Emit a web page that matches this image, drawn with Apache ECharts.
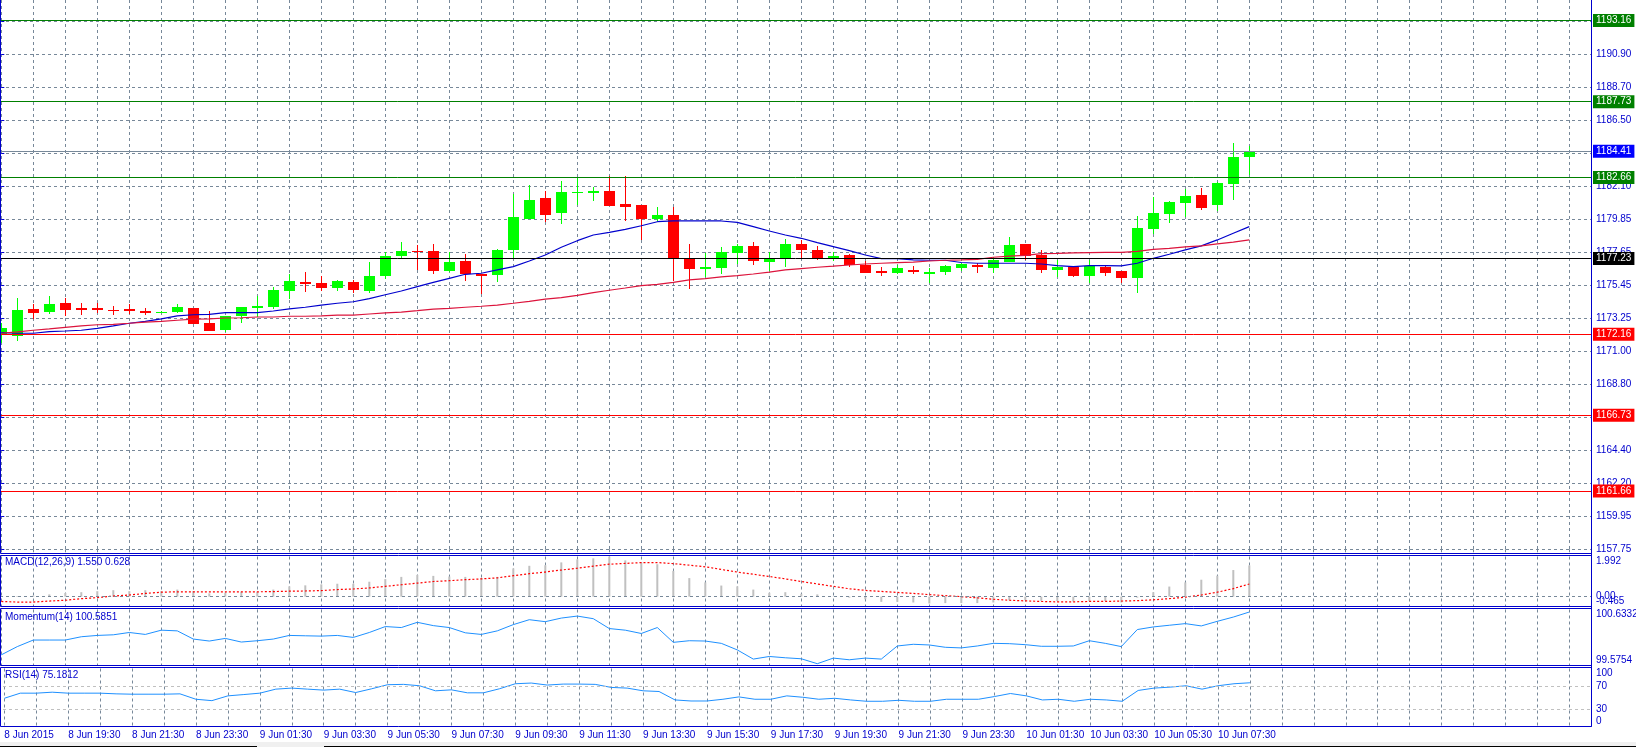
<!DOCTYPE html>
<html><head><meta charset="utf-8">
<script src="https://cdn.jsdelivr.net/npm/echarts@6/dist/echarts.min.js"></script>
<style>html,body{margin:0;padding:0;background:#fff;overflow:hidden}#c{width:1636px;height:747px}</style>
</head><body><div id="c"></div>
<script>
// ---------- data ----------
const openP = [1172.10,1172.06,1173.84,1173.66,1174.25,1173.93,1173.93,1173.80,1173.86,1173.73,
1173.60,1173.66,1173.91,1172.91,1172.46,1173.40,1173.93,1174.00,1175.07,1175.65,
1175.59,1175.27,1175.65,1175.05,1176.08,1177.40,1177.73,1177.73,1176.39,1177.06,
1176.19,1176.12,1177.82,1179.87,1181.28,1180.27,1181.61,1181.61,1181.75,1180.88,
1180.81,1179.87,1180.14,1177.24,1176.52,1176.59,1177.60,1178.07,1177.02,1177.24,
1178.20,1177.80,1177.26,1177.46,1176.77,1176.41,1176.28,1176.48,1176.21,1176.34,
1176.59,1176.81,1176.61,1177.01,1178.20,1177.48,1176.48,1176.68,1176.08,1176.66,
1176.39,1175.94,1179.22,1180.23,1180.94,1181.48,1180.81,1182.24,1184.03];
const closeP = [1172.57,1173.78,1173.60,1174.18,1173.80,1173.80,1173.80,1173.76,1173.73,1173.60,
1173.66,1173.98,1172.86,1172.39,1173.36,1173.98,1174.05,1175.12,1175.72,1175.54,
1175.27,1175.72,1175.12,1176.06,1177.40,1177.73,1177.66,1176.39,1176.99,1176.19,
1176.06,1177.82,1180.01,1181.15,1180.14,1181.68,1181.66,1181.77,1180.74,1180.68,
1179.87,1180.14,1177.24,1176.52,1176.66,1177.66,1178.07,1177.08,1177.24,1178.20,
1177.80,1177.24,1177.40,1176.77,1176.28,1176.28,1176.59,1176.34,1176.34,1176.72,
1176.86,1176.68,1177.15,1178.13,1177.42,1176.48,1176.66,1176.08,1176.75,1176.28,
1175.94,1179.27,1180.27,1181.01,1181.41,1180.61,1182.28,1184.03,1184.41];
const lowP = [1171.59,1171.72,1173.16,1173.51,1173.40,1173.44,1173.58,1173.44,1173.51,1173.46,
1173.58,1173.60,1172.82,1172.39,1172.33,1172.93,1173.33,1173.82,1174.50,1175.00,
1175.07,1175.05,1174.90,1174.90,1175.87,1177.24,1176.44,1176.19,1176.34,1175.72,
1174.85,1175.65,1177.28,1179.87,1179.65,1179.54,1180.83,1181.08,1180.74,1179.76,
1178.47,1179.74,1175.72,1175.16,1176.01,1176.21,1176.86,1176.79,1176.41,1176.66,
1177.24,1177.13,1177.06,1176.68,1176.28,1176.08,1176.21,1176.21,1175.61,1176.14,
1176.41,1176.28,1176.28,1177.01,1177.13,1176.28,1176.01,1176.01,1175.61,1176.08,
1175.61,1174.94,1178.89,1179.63,1180.03,1180.50,1180.43,1181.15,1182.84];
const highP = [1172.93,1174.57,1174.16,1174.70,1174.56,1174.25,1174.27,1174.07,1174.18,1173.89,
1173.70,1174.18,1173.93,1173.71,1173.40,1173.98,1174.72,1175.30,1176.19,1176.34,
1176.06,1175.81,1175.81,1176.99,1177.68,1178.33,1178.11,1178.20,1177.68,1177.53,
1176.19,1177.88,1181.57,1182.15,1181.75,1182.42,1182.62,1182.02,1182.75,1182.75,
1180.81,1180.68,1180.68,1178.20,1177.62,1178.00,1178.20,1178.33,1177.66,1178.53,
1178.47,1178.07,1177.66,1177.53,1177.06,1176.66,1176.79,1176.72,1176.57,1176.79,
1176.93,1176.90,1177.35,1178.69,1178.20,1177.80,1177.15,1176.68,1177.15,1176.75,
1176.39,1180.07,1181.35,1181.10,1181.88,1181.95,1182.35,1184.97,1184.76];
const maFast = [1172.26,1172.22,1172.22,1172.33,1172.37,1172.42,1172.55,1172.71,1172.89,1173.02,
1173.18,1173.38,1173.46,1173.49,1173.60,1173.60,1173.60,1173.71,1173.85,1173.96,
1174.10,1174.23,1174.33,1174.54,1174.80,1175.05,1175.34,1175.63,1175.90,1176.17,
1176.24,1176.46,1176.68,1177.06,1177.46,1177.98,1178.42,1178.80,1178.98,1179.18,
1179.42,1179.69,1179.74,1179.74,1179.74,1179.74,1179.65,1179.36,1179.07,1178.80,
1178.58,1178.29,1178.02,1177.75,1177.46,1177.22,1177.22,1177.13,1177.11,1177.11,
1176.96,1176.91,1176.91,1176.91,1176.91,1176.86,1176.75,1176.68,1176.75,1176.75,
1176.73,1176.91,1177.24,1177.51,1177.80,1178.07,1178.47,1178.92,1179.36];
const maSlow = [1172.22,1172.31,1172.42,1172.51,1172.62,1172.71,1172.79,1172.82,1172.89,1172.97,
1173.02,1173.09,1173.16,1173.18,1173.24,1173.26,1173.31,1173.31,1173.36,1173.36,
1173.38,1173.44,1173.44,1173.51,1173.58,1173.64,1173.73,1173.83,1173.89,1173.96,
1174.03,1174.11,1174.23,1174.36,1174.50,1174.60,1174.76,1174.94,1175.10,1175.25,
1175.41,1175.50,1175.63,1175.79,1175.88,1175.99,1176.08,1176.19,1176.32,1176.46,
1176.55,1176.64,1176.71,1176.79,1176.86,1176.91,1176.95,1176.99,1177.06,1177.11,
1177.13,1177.17,1177.31,1177.38,1177.44,1177.55,1177.57,1177.60,1177.62,1177.64,
1177.64,1177.71,1177.84,1177.91,1178.00,1178.07,1178.20,1178.32,1178.47];
const macdHist = [0.02,0.03,0.05,0.11,0.18,0.22,0.27,0.32,0.27,0.32,
0.27,0.35,0.27,0.16,0.19,0.24,0.24,0.35,0.51,0.56,
0.61,0.64,0.64,0.74,0.87,0.98,1.08,1.03,1.00,0.98,
0.93,0.98,1.40,1.53,1.56,1.70,1.85,1.90,1.99,1.80,
1.70,1.61,1.28,0.92,0.71,0.55,0.51,0.35,0.19,0.22,
0.14,0.11,0.01,-0.05,-0.13,-0.26,-0.26,-0.29,-0.34,-0.32,
-0.32,-0.32,-0.29,-0.18,-0.18,-0.21,-0.22,-0.24,-0.22,-0.22,
-0.29,-0.05,0.22,0.50,0.71,0.84,1.04,1.32,1.550];
const macdSignal = [-0.24,-0.27,-0.27,-0.22,-0.18,-0.10,-0.05,0.03,0.08,0.16,
0.22,0.24,0.24,0.24,0.24,0.24,0.24,0.25,0.27,0.28,
0.30,0.35,0.38,0.43,0.51,0.59,0.67,0.75,0.79,0.84,
0.88,0.93,1.04,1.14,1.22,1.32,1.41,1.51,1.61,1.65,
1.69,1.69,1.64,1.56,1.48,1.35,1.22,1.11,1.00,0.88,
0.75,0.63,0.51,0.39,0.31,0.26,0.21,0.16,0.10,0.05,
0.00,-0.06,-0.13,-0.18,-0.21,-0.24,-0.26,-0.26,-0.24,-0.24,
-0.22,-0.20,-0.16,-0.10,-0.03,0.08,0.22,0.40,0.628];
const momentum = [99.769,99.926,100.051,100.051,100.051,100.114,100.139,100.151,100.195,100.158,
100.239,100.226,100.070,100.032,100.082,100.013,100.038,100.070,100.139,100.132,
100.126,100.139,100.101,100.195,100.308,100.289,100.389,100.326,100.289,100.189,
100.158,100.226,100.345,100.439,100.401,100.470,100.508,100.458,100.270,100.239,
100.176,100.289,100.007,100.038,100.032,99.988,99.863,99.688,99.738,99.713,
99.694,99.600,99.707,99.675,99.707,99.688,99.938,99.970,99.957,99.913,
99.901,99.938,99.988,99.982,99.963,99.932,99.932,99.938,100.038,99.988,
99.926,100.251,100.301,100.333,100.364,100.320,100.408,100.489,100.5851];
const rsi = [48.2,57.1,57.1,58.8,57.1,57.1,57.1,55.9,55.3,55.3,
55.3,55.9,46.5,44.1,52.4,54.7,57.1,64.1,65.9,64.1,
62.4,64.1,58.2,64.7,71.8,72.4,70.0,61.2,62.9,57.7,
57.7,64.7,73.5,74.7,71.2,72.9,72.9,72.4,67.1,65.9,
61.2,60.0,45.3,43.5,43.5,46.5,50.6,46.5,46.5,52.4,
50.0,46.5,48.2,45.3,43.0,43.0,44.7,43.0,43.0,46.5,
46.5,46.5,51.2,56.5,52.4,45.3,46.5,43.0,46.5,45.3,
43.0,61.8,65.9,67.6,70.0,64.1,70.0,73.5,75.1812];
const timeLabels = ['8 Jun 2015','8 Jun 19:30','8 Jun 21:30','8 Jun 23:30','9 Jun 01:30','9 Jun 03:30',
'9 Jun 05:30','9 Jun 07:30','9 Jun 09:30','9 Jun 11:30','9 Jun 13:30','9 Jun 15:30','9 Jun 17:30',
'9 Jun 19:30','9 Jun 21:30','9 Jun 23:30','10 Jun 01:30','10 Jun 03:30','10 Jun 05:30','10 Jun 07:30'];
const priceTickLabels = ['1157.75','1159.95','1162.20','1164.40','1166.60','1168.80','1171.00','1173.25',
'1175.45','1177.65','1179.85','1182.10','1184.30','1186.50','1188.70','1190.90','1193.10'];
const priceMin = 1157.75, priceStep = 2.21, priceTop = 1194.54;
const resistanceLevels = [1193.16, 1187.73, 1182.66];
const supportLevels = [1172.16, 1166.73, 1161.66];
const pivotLevel = 1177.23;
const bidPrice = 1184.41;
const macdRange = [-0.465, 1.992];
const momRange = [99.5754, 100.6332];
const rsiRange = [0, 100];
const rsiLevels = [70, 30];

// ---------- styling ----------
const FONT = 'Liberation Sans';
const FG = '#0000cd';
const GRIDC = '#778899';
const DASH = [3, 3];
const X_MIN = -0.08125, X_MAX = 99.35625;
const N = openP.length;

const chart = echarts.init(document.getElementById('c'), null, {renderer: 'canvas'});

const candleData = openP.map((_, i) => [i, openP[i], closeP[i], lowP[i], highP[i]]);
const pairs = arr => arr.map((v, i) => [i, v]);

function xAxisFor(g, showLabels) {
  return {
    type: 'value', gridIndex: g, min: X_MIN, max: X_MAX, splitNumber: 50, minInterval: 2, maxInterval: 2,
    axisLine: {show: false}, axisTick: {show: false},
    splitLine: {show: true, showMinLine: false, showMaxLine: false, lineStyle: {color: GRIDC, type: DASH, width: 1}},
    axisLabel: showLabels ? {
      show: true, interval: 0, hideOverlap: false, showMinLabel: true, showMaxLabel: false,
      align: 'left', verticalAlign: 'top', margin: 4, color: FG, fontFamily: FONT, fontSize: 10,
      formatter: v => { const r = Math.round(v); if (Math.abs(v - r) > 1e-6 || r < 0 || r % 4 !== 0) return ''; return timeLabels[r / 4] || ''; }
    } : {show: false}
  };
}
const hiddenY = (g, range) => ({type: 'value', gridIndex: g, position: 'right', min: range[0], max: range[1],
  axisLine: {show: false}, axisTick: {show: false}, axisLabel: {show: false}, splitLine: {show: false}});

const levelLines = [];
resistanceLevels.forEach(v => levelLines.push({yAxis: v, lineStyle: {color: '#008000'}, label: {backgroundColor: '#008000'}}));
supportLevels.forEach(v => levelLines.push({yAxis: v, lineStyle: {color: '#ff0000'}, label: {backgroundColor: '#ff0000'}}));
levelLines.push({yAxis: pivotLevel, lineStyle: {color: '#000000'}, label: {backgroundColor: '#000000'}});
levelLines.push({yAxis: bidPrice, lineStyle: {color: GRIDC}, label: {backgroundColor: '#0000ff'}});

const option = {
  animation: false,
  backgroundColor: '#ffffff',
  grid: [
    {left: 0, right: 45, top: 0, bottom: 747 - 549.3},
    {left: 0, right: 45, top: 556.5, height: 49.5},
    {left: 0, right: 45, top: 609.5, height: 55.5},
    {left: 0, right: 45, top: 668.5, height: 57.5},
    {left: 0, right: 45, top: 549.3, height: 4.2}
  ],
  xAxis: [xAxisFor(0, false), xAxisFor(1, false), xAxisFor(2, false), xAxisFor(3, true), xAxisFor(4, false)],
  yAxis: [
    {type: 'value', gridIndex: 0, position: 'right', min: priceMin, max: priceTop, interval: priceStep,
     axisLine: {show: false},
     axisTick: {show: true, length: 3, lineStyle: {color: FG}},
     splitLine: {show: true, showMaxLine: false, lineStyle: {color: GRIDC, type: DASH, width: 1}},
     axisLabel: {show: true, margin: 5, color: FG, fontFamily: FONT, fontSize: 10, showMaxLabel: false,
       formatter: v => { const k = Math.round((v - priceMin) / priceStep); if (Math.abs(v - (priceMin + k * priceStep)) > 0.01) return ''; return priceTickLabels[k] || ''; }}},
    hiddenY(1, macdRange), hiddenY(2, momRange), hiddenY(3, rsiRange), hiddenY(4, [0, 1])
  ],
  series: [
    {
      type: 'custom', name: 'candles', xAxisIndex: 0, yAxisIndex: 0, z: 3, clip: true,
      data: candleData,
      encode: {x: 0, y: [1, 2, 3, 4]},
      renderItem: (params, api) => {
        const i = api.value(0), o = api.value(1), c = api.value(2), l = api.value(3), h = api.value(4);
        const pO = api.coord([i, o]), pC = api.coord([i, c]), pL = api.coord([i, l]), pH = api.coord([i, h]);
        const x = Math.round(pO[0] - 0.3);
        const color = c >= o ? '#00ff00' : '#ff0000';
        let top = Math.round(Math.min(pO[1], pC[1])), bot = Math.round(Math.max(pO[1], pC[1]));
        if (bot - top < 1) bot = top + 1;
        const wt = Math.round(pH[1]), wb = Math.round(pL[1]);
        return {type: 'group', children: [
          {type: 'rect', shape: {x: x, y: wt, width: 1, height: Math.max(1, wb - wt)}, style: {fill: color}},
          {type: 'rect', shape: {x: x - 5, y: top, width: 11, height: bot - top}, style: {fill: color}}
        ]};
      }
    },
    {type: 'line', name: 'MA fast', xAxisIndex: 0, yAxisIndex: 0, z: 4, data: pairs(maFast), showSymbol: false,
     lineStyle: {color: '#0000cd', width: 1.2}},
    {type: 'line', name: 'MA slow', xAxisIndex: 0, yAxisIndex: 0, z: 4, data: pairs(maSlow), showSymbol: false,
     lineStyle: {color: '#dc143c', width: 1.2},
     markLine: {silent: true, symbol: 'none', z: 6, animation: false,
       lineStyle: {type: 'solid', width: 1},
       label: {show: true, position: 'end', distance: 2, color: '#ffffff', fontFamily: FONT, fontSize: 10,
         padding: [2, 3, 1, 3], formatter: p => p.value.toFixed(2)},
       emphasis: {disabled: true},
       data: levelLines}},
    {type: 'bar', name: 'MACD', xAxisIndex: 1, yAxisIndex: 1, data: pairs(macdHist), barWidth: 2,
     itemStyle: {color: '#c0c0c0'},
     markLine: {silent: true, symbol: 'none', label: {show: false}, lineStyle: {color: GRIDC, type: DASH, width: 1},
       data: [{yAxis: 0}]}},
    {type: 'line', name: 'Signal', xAxisIndex: 1, yAxisIndex: 1, data: pairs(macdSignal), showSymbol: false,
     lineStyle: {color: '#ff0000', width: 1.2, type: [2, 2]}},
    {type: 'line', name: 'Momentum', xAxisIndex: 2, yAxisIndex: 2, data: pairs(momentum), showSymbol: false,
     lineStyle: {color: '#1e90ff', width: 1}},
    {type: 'line', name: 'RSI', xAxisIndex: 3, yAxisIndex: 3, data: pairs(rsi), showSymbol: false,
     lineStyle: {color: '#1e90ff', width: 1},
     markLine: {silent: true, symbol: 'none', label: {show: false}, lineStyle: {color: '#c0c0c0', type: DASH, width: 1},
       data: rsiLevels.map(v => ({yAxis: v}))}}
  ]
};
chart.setOption(option);

// ---------- frames & panel labels ----------
const RX = 1591.5;
const frames = [[0, 553.5], [555.5, 606.5], [608.5, 665.5], [667.5, 726.5]];
const graphics = [];
frames.forEach(([t, b], k) => {
  graphics.push({type: 'polyline', silent: true, z: 50,
    shape: {points: k === 0 ? [[0.5, t], [0.5, b], [RX, b], [RX, t]] : [[0.5, t], [RX, t], [RX, b], [0.5, b], [0.5, t]]},
    style: {stroke: FG, lineWidth: 1, fill: null}});
});
graphics.push({type: 'line', silent: true, z: 50, shape: {x1: RX, y1: 0, x2: RX, y2: 726.5}, style: {stroke: FG, lineWidth: 1}});
// window strip at the very bottom
graphics.push({type: 'rect', silent: true, z: 40, shape: {x: 0, y: 742, width: 1636, height: 5}, style: {fill: '#f0f0f0'}});
graphics.push({type: 'line', silent: true, z: 41, shape: {x1: 0, y1: 746.5, x2: 257, y2: 746.5}, style: {stroke: '#000', lineWidth: 1}});
graphics.push({type: 'line', silent: true, z: 41, shape: {x1: 324, y1: 746.5, x2: 1636, y2: 746.5}, style: {stroke: '#000', lineWidth: 1}});

const fmt = (v, d) => v.toFixed(d);
const titles = [
  {text: 'MACD(12,26,9) ' + fmt(macdHist[N - 1], 3) + ' ' + fmt(macdSignal[N - 1], 3), top: 557},
  {text: 'Momentum(14) ' + fmt(momentum[N - 1], 4), top: 612},
  {text: 'RSI(14) ' + fmt(rsi[N - 1], 4), top: 670}
];
titles.forEach(t => graphics.push({type: 'text', silent: true, z: 60, x: 5, y: t.top,
  style: {text: t.text, fill: FG, font: '10px "' + FONT + '"', textVerticalAlign: 'top'}}));

function axisText(yAxisIndex, value, label, vAlign) {
  const y = chart.convertToPixel({yAxisIndex: yAxisIndex}, value);
  graphics.push({type: 'text', silent: true, z: 60, x: 1596, y: y,
    style: {text: label, fill: FG, font: '10px "' + FONT + '"', textVerticalAlign: vAlign}});
}
axisText(1, macdRange[1], macdRange[1].toFixed(3), 'top');
axisText(1, 0, '0.00', 'middle');
axisText(1, macdRange[0], macdRange[0].toFixed(3), 'bottom');
axisText(2, momRange[1], momRange[1].toFixed(4), 'top');
axisText(2, momRange[0], momRange[0].toFixed(4), 'bottom');
axisText(3, rsiRange[1], String(rsiRange[1]), 'top');
rsiLevels.forEach(v => axisText(3, v, String(v), 'middle'));
axisText(3, rsiRange[0], String(rsiRange[0]), 'bottom');

chart.setOption({graphic: graphics});
</script></body></html>
